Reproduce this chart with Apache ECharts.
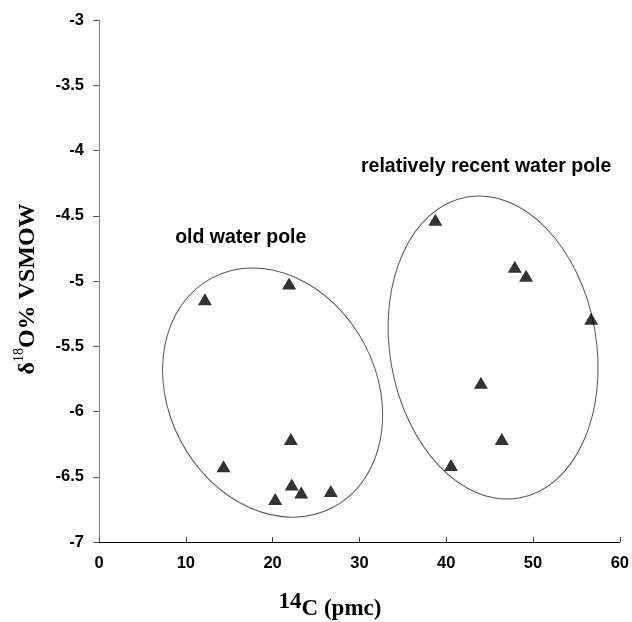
<!DOCTYPE html>
<html>
<head>
<meta charset="utf-8">
<script src="https://cdn.jsdelivr.net/npm/echarts@6/dist/echarts.min.js"></script>
<style>
html,body{margin:0;padding:0;background:#fff;}
#chart{width:632px;height:622px;}
</style>
</head>
<body>
<div id="chart"></div>
<script>
// ---- data ----
const pmc14C = [12.2, 21.9, 22.1, 14.35, 22.2, 23.3, 20.3, 26.7, 38.75, 47.9, 49.2, 56.7, 44.0, 46.4, 40.55];
const d18O   = [-5.14, -5.02, -6.21, -6.42, -6.56, -6.62, -6.67, -6.61, -4.53, -4.89, -4.96, -5.29, -5.78, -6.21, -6.41];

const poleNames   = ['old water pole', 'relatively recent water pole'];
const poleCenterX = [20.0, 45.4];
const poleCenterY = [-5.855, -5.51];
const poleLabelX  = [16.33, 44.6];
const poleLabelY  = [-4.665, -4.126];

const xTicks = [0, 10, 20, 30, 40, 50, 60];
const yTicks = [-7, -6.5, -6, -5.5, -5, -4.5, -4, -3.5, -3];

// ellipse shapes (pixel semi-axes, tilt in degrees clockwise)
const ellipseStyle = [
  { rx: 129.7, ry: 103.9, tilt: 62.2 },
  { rx: 152.7, ry: 103.2, tilt: 80.2 }
];

const chart = echarts.init(document.getElementById('chart'));
const labelFont = { fontFamily: 'Liberation Sans', fontWeight: 'bold', fontSize: 16.5, color: '#000' };

chart.setOption({
  animation: false,
  backgroundColor: '#fff',
  grid: { left: 99, right: 11.5, top: 20, bottom: 80, containLabel: false },
  xAxis: {
    type: 'value', min: xTicks[0], max: xTicks[xTicks.length - 1], interval: 10,
    axisLine: { show: true, onZero: false, lineStyle: { color: '#000', width: 1 } },
    axisTick: { show: true, inside: true, length: 5, lineStyle: { color: '#444' } },
    splitLine: { show: false },
    axisLabel: Object.assign({ margin: 13 }, labelFont)
  },
  yAxis: {
    type: 'value', min: yTicks[0], max: yTicks[yTicks.length - 1], interval: 0.5,
    axisLine: { show: true, onZero: false, lineStyle: { color: '#808080', width: 1 } },
    axisTick: { show: true, inside: false, length: 6, lineStyle: { color: '#555' } },
    splitLine: { show: false },
    axisLabel: Object.assign({ margin: 15 }, labelFont)
  },
  graphic: [
    {
      type: 'text', x: 330, y: 606,
      style: {
        text: '{a|14}{b|C (pmc)}',
        align: 'center', verticalAlign: 'middle',
        rich: {
          a: { fontFamily: 'Liberation Serif', fontWeight: 'bold', fontSize: 23, verticalAlign: 'top', lineHeight: 30, fill: '#000' },
          b: { fontFamily: 'Liberation Serif', fontWeight: 'bold', fontSize: 23, verticalAlign: 'bottom', lineHeight: 30, fill: '#000' }
        }
      }
    },
    {
      type: 'text', x: 26, y: 289, rotation: Math.PI / 2,
      style: {
        text: '{b|δ}{s|18}{b|O% VSMOW}',
        align: 'center', verticalAlign: 'middle',
        rich: {
          b: { fontFamily: 'Liberation Serif', fontWeight: 'bold', fontSize: 24, verticalAlign: 'bottom', lineHeight: 28, fill: '#000' },
          s: { fontFamily: 'Liberation Serif', fontWeight: 'normal', fontSize: 14, verticalAlign: 'top', lineHeight: 28, fill: '#000' }
        }
      }
    }
  ],
  series: [
    {
      type: 'custom',
      coordinateSystem: 'cartesian2d',
      clip: false,
      data: poleCenterX.map((x, i) => [x, poleCenterY[i], i]),
      renderItem: function (params, api) {
        const c = api.coord([api.value(0), api.value(1)]);
        const e = ellipseStyle[api.value(2)];
        return {
          type: 'ellipse',
          x: c[0], y: c[1],
          rotation: -e.tilt * Math.PI / 180,
          shape: { cx: 0, cy: 0, rx: e.rx, ry: e.ry },
          style: { fill: 'none', stroke: '#555', lineWidth: 1 }
        };
      },
      z: 1
    },
    {
      type: 'custom',
      coordinateSystem: 'cartesian2d',
      clip: false,
      data: poleLabelX.map((x, i) => [x, poleLabelY[i], i]),
      renderItem: function (params, api) {
        const c = api.coord([api.value(0), api.value(1)]);
        return {
          type: 'text',
          x: c[0], y: c[1],
          style: {
            text: poleNames[api.value(2)],
            align: 'center', verticalAlign: 'middle',
            font: 'bold 19.5px "Liberation Sans"',
            fill: '#000'
          }
        };
      },
      z: 3
    },
    {
      type: 'scatter',
      symbol: 'triangle',
      symbolSize: [14, 12],
      itemStyle: { color: '#000' },
      data: pmc14C.map((x, i) => [x, d18O[i]]),
      z: 4
    }
  ]
});
</script>
</body>
</html>
